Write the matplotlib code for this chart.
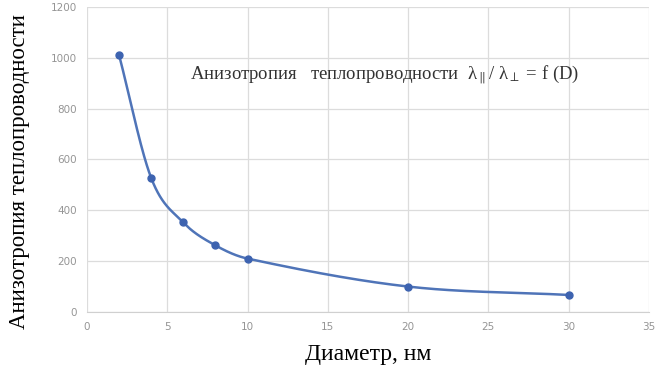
import numpy as np
import matplotlib.pyplot as plt
plt.switch_backend('agg')

# data
diameter = [2, 4, 6, 8, 10, 20, 30]
anisotropy = [1010, 527, 352, 262, 210, 100, 67]

x_ticks = [0, 5, 10, 15, 20, 25, 30, 35]
y_ticks = [0, 200, 400, 600, 800, 1000, 1200]


def smooth_curve(xs, ys, n=60):
    # cubic hermite through the points, tangents from the neighbours
    xs = np.asarray(xs, float)
    ys = np.asarray(ys, float)
    m = np.zeros_like(ys)
    m[0] = (ys[1] - ys[0]) / (xs[1] - xs[0])
    m[-1] = (ys[-1] - ys[-2]) / (xs[-1] - xs[-2])
    m[1:-1] = (ys[2:] - ys[:-2]) / (xs[2:] - xs[:-2])
    out_x, out_y = [], []
    t = np.linspace(0, 1, n)
    for i in range(len(xs) - 1):
        h = xs[i + 1] - xs[i]
        h00 = 2 * t ** 3 - 3 * t ** 2 + 1
        h10 = t ** 3 - 2 * t ** 2 + t
        h01 = -2 * t ** 3 + 3 * t ** 2
        h11 = t ** 3 - t ** 2
        out_x.extend(xs[i] + t * h)
        out_y.extend(h00 * ys[i] + h10 * h * m[i] + h01 * ys[i + 1] + h11 * h * m[i + 1])
    return np.array(out_x), np.array(out_y)


plt.rcParams['mathtext.fontset'] = 'stix'

fig = plt.figure(figsize=(6.69, 3.69), dpi=100)
ax = fig.add_axes([0.130, 0.1545, 0.840, 0.827])

sx, sy = smooth_curve(diameter, anisotropy)
ax.plot(sx, sy, color='#4f74b8', lw=1.8, zorder=3)
ax.plot(diameter, anisotropy, 'o', color='#3d63b0', ms=5, zorder=4)

ax.set_xlim(0, 35)
ax.set_ylim(0, 1200)
ax.set_xticks(x_ticks)
ax.set_yticks(y_ticks)
ax.grid(True, color='#dcdcdc', lw=0.9)
ax.set_axisbelow(True)
for s in ['top', 'right', 'left']:
    ax.spines[s].set_visible(False)
ax.spines['bottom'].set_color('#d0d0d0')
ax.tick_params(length=0, labelsize=7.5, labelcolor='#959595', pad=7)

ax.set_xlabel('Диаметр, нм', family='Liberation Serif', fontsize=17, labelpad=9)
ax.set_ylabel('Анизотропия теплопроводности', family='Liberation Serif', fontsize=16.5, labelpad=15)
ax.yaxis.label.set_y(0.46)

ax.text(0.183, 0.777,
        r'Анизотропия   теплопроводности  λ$_{\parallel}$/ λ$_{\perp}$ = f (D)',
        transform=ax.transAxes, family='Liberation Serif', fontsize=13.5,
        color='#333333', va='center', ha='left')

fig.savefig('out.png', dpi=100)
